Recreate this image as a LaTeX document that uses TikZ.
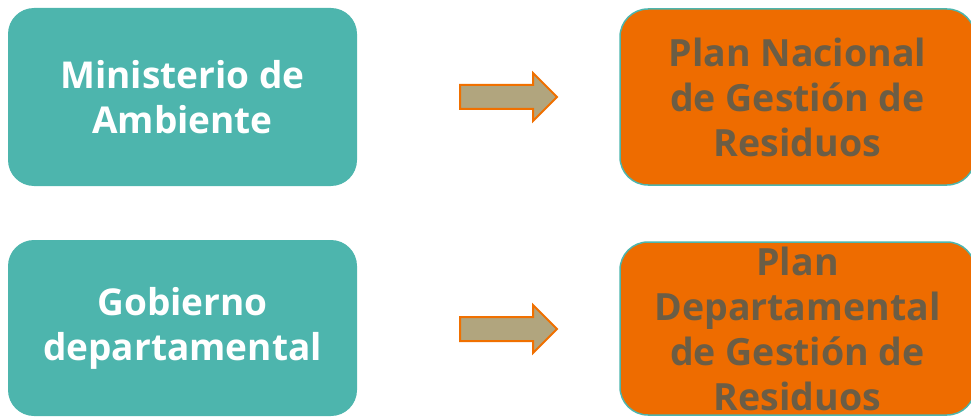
\documentclass[tikz,border=0pt]{standalone}
\usepackage{fontspec}
\setmainfont{Open Sans}
\usepackage{tikz}
\usetikzlibrary{positioning}
\usetikzlibrary{shapes.arrows}

\definecolor{tealbox}{HTML}{4DB5AD}
\definecolor{orangebox}{HTML}{EE6C00}
\definecolor{plantext}{HTML}{6B5D45}
\definecolor{arrowfill}{HTML}{B1A57E}
\definecolor{arrowline}{HTML}{F07000}

\begin{document}
\begin{tikzpicture}
	[
	x = 1pt, y = -1pt,
	agency/.style = {draw=none,fill=tealbox,rounded corners=26pt,minimum width=349pt,align=center,text=white,font=\fontsize{37}{45}\selectfont\bfseries},
	plan/.style = {draw=tealbox,line width=1.5pt,fill=orangebox,rounded corners=28pt,minimum width=355pt,align=center,text=plantext,font=\fontsize{37.5}{45}\selectfont\bfseries},
	fatarrow/.style = {single arrow,draw=arrowline,line width=2pt,fill=arrowfill,inner xsep=0pt,inner ysep=11pt,minimum height=97pt,single arrow head extend=12pt,anchor=west}
	]
		\useasboundingbox (0,0) rectangle (971,417);

		\coordinate (@1) at (182.5,97);
		\coordinate (@2) at (182.5,328);
		\coordinate (@3) at (797.5,97);
		\coordinate (@4) at (797.5,328.5);

		\node[agency,minimum height=178pt] (min) at (@1) {Ministerio de\\Ambiente};
		\node[agency,minimum height=176pt] (gob) at (@2) {Gobierno\\departamental};

		\node[plan,minimum height=176pt] (pnac) at (@3) {Plan Nacional\\de Gestión de\\Residuos};
		\node[plan,minimum height=173pt] (pdep) at (@4) {Plan\\Departamental\\de Gestión de\\Residuos};

		\node[fatarrow] (a1) at (459,97) {};
		\node[fatarrow] (a2) at (459,329) {};
		
	\end{tikzpicture}
\end{document}
